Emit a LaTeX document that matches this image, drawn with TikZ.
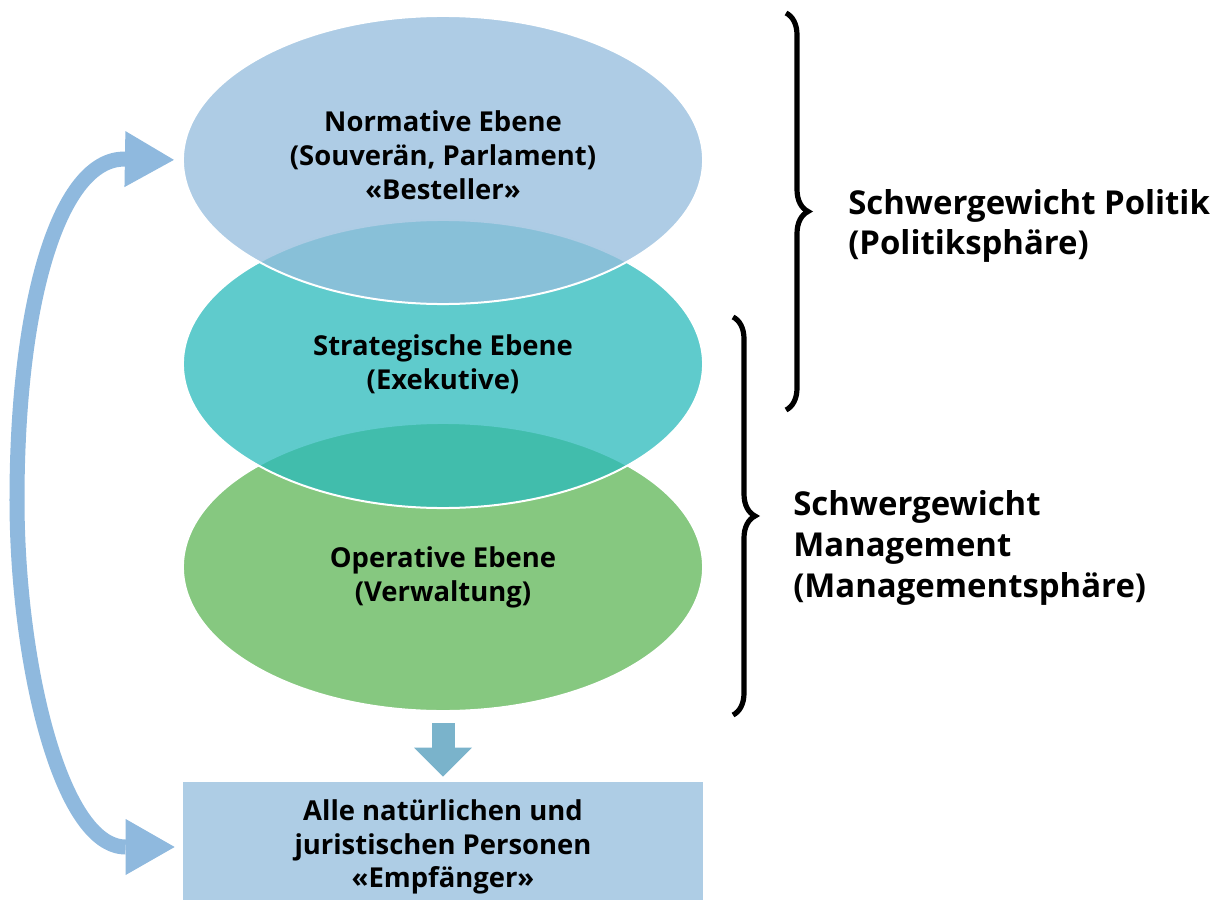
\documentclass[tikz,border=0pt]{standalone}
\usepackage{fontspec}
\setmainfont{Open Sans}
\usetikzlibrary{shapes.geometric,arrows.meta,decorations.pathreplacing}

\definecolor{normblau}{RGB}{149,189,221}
\definecolor{strattuerkis}{RGB}{42,186,187}
\definecolor{opergruen}{RGB}{134,200,128}
\definecolor{empfblau}{RGB}{174,205,229}
\definecolor{pfeilblau}{RGB}{122,179,203}
\definecolor{bogenblau}{RGB}{143,185,222}

\tikzset{
    ebene/.style={ellipse, minimum width=13cm, minimum height=7.2cm, inner sep=0pt,
        draw=white, line width=0.05cm},
    ebenetext/.style={align=center, inner sep=0pt, font=\bfseries\fontsize{19.5}{24}\selectfont},
    klammer/.style={decorate, decoration={brace, amplitude=0.55cm}, line width=0.13cm},
    sphaere/.style={anchor=west, align=left, inner sep=0pt, font=\bfseries\fontsize{23.4}{29}\selectfont},
}

\begin{document}
\begin{tikzpicture}[x=0.025cm, y=-0.025cm]
                        \useasboundingbox (0,0) rectangle (1220,899);

                        \node[ebene, fill=opergruen] (oper) at (443,567) {};
                        \node[ebene, fill=strattuerkis, fill opacity=0.75] (strat) at (443,364) {};
                        \node[ebene, fill=normblau, fill opacity=0.77] (norm) at (443,160) {};

                        \node[ebenetext] (opertext) at ([yshift=-0.25cm]oper.center) {Operative Ebene\\(Verwaltung)};
                        \node[ebenetext] (strattext) at (strat.center) {Strategische Ebene\\(Exekutive)};
                        \node[ebenetext] (normtext) at ([yshift=0.12cm]norm.center) {Normative Ebene\\(Souverän, Parlament)\\«Besteller»};

                        \node[fill=empfblau, minimum width=13cm, minimum height=3.25cm] (empf) at (443,847) {};
                        \node[ebenetext] (empftext) at (empf.center) {Alle natürlichen und\\juristischen Personen\\«Empfänger»};

                        \draw[pfeilblau, line width=0.575cm, shorten <=0.275cm, shorten >=0.125cm,
                            -{Triangle[length=0.725cm, width=1.45cm, line width=0pt]}] (oper.south) -- (empf.north);

                        \draw[bogenblau, line width=0.375cm, shorten <=0.2cm, shorten >=0.2cm,
                            {Triangle[length=1.225cm, width=1.4cm, line width=0pt]}-{Triangle[length=1.225cm, width=1.4cm, line width=0pt]}]
                            (empf.west) .. controls (60,847) and (17,660) .. (17,500)
                            .. controls (17,300) and (60,158) .. (norm.west);

                        \draw[klammer] (786,13) -- (786,410);
                        \draw[klammer] (733,317) -- (733,715);

                        \node[sphaere] (politik) at (848,226) {Schwergewicht Politik\\(Politiksphäre)};
                        \node[sphaere] (management) at (793,548) {Schwergewicht\\Management\\(Managementsphäre)};
                    \end{tikzpicture}
\end{document}
